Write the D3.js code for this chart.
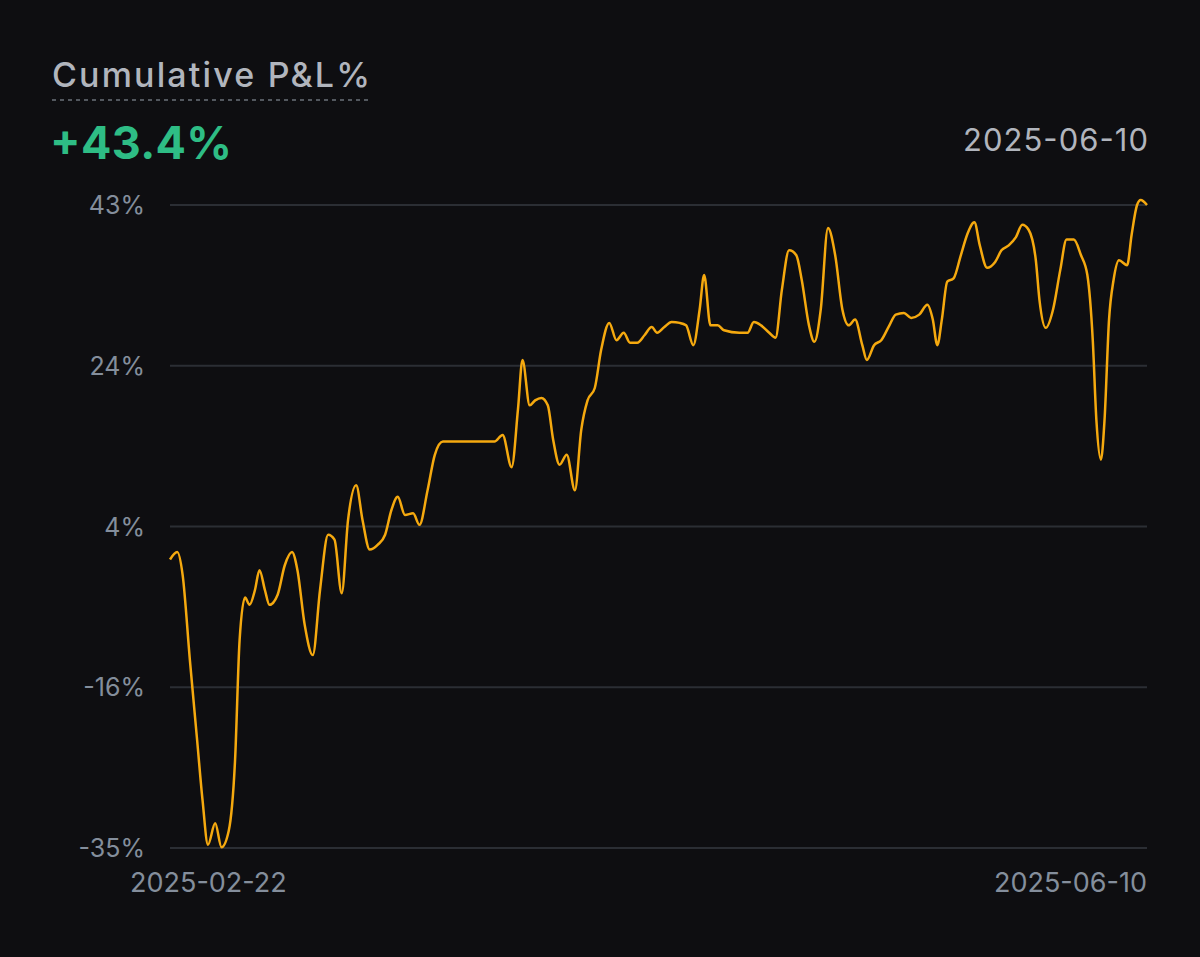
<!DOCTYPE html>
<html>
<head>
<meta charset="utf-8">
<script src="https://cdn.jsdelivr.net/npm/d3@7"></script>
<style>
  html, body { margin: 0; padding: 0; background: #0e0e11; }
  svg { display: block; }
</style>
</head>
<body>
<svg id="main_chart" width="1200" height="957"></svg>
<script>
// [day since 2025-02-22, cumulative P&L %]
const series = [
  [0,0.0],[0.8,0.9],[1.4,-1.9],[2.2,-12.2],[3.0,-21.9],[3.6,-29.2],[4.2,-34.6],[5.0,-32.0],[5.7,-34.9],[6.5,-32.9],
  [7.2,-24.3],[7.7,-9.8],[8.3,-4.6],[8.8,-5.5],[9.4,-3.7],[9.9,-1.3],[10.5,-3.7],[11.0,-5.5],[11.9,-4.3],[12.7,-0.7],
  [13.5,0.9],[14.1,-1.3],[14.9,-7.9],[15.8,-11.6],[16.6,-3.7],[17.5,3.0],[18.2,2.4],[19.0,-4.1],[19.7,4.8],[20.6,9.0],
  [21.3,4.8],[22.1,1.2],[23.0,1.8],[23.8,3.0],[24.5,6.0],[25.2,7.6],[26.0,5.4],[26.9,5.6],[27.6,4.2],[28.5,8.4],
  [29.3,12.7],[30.2,14.3],[32.0,14.3],[34.3,14.3],[35.9,14.3],[36.8,15.1],[37.8,11.2],[38.5,18.2],[39.0,24.2],[39.8,18.7],
  [40.4,19.3],[41.1,19.6],[41.8,18.7],[42.4,14.5],[43.1,11.5],[43.9,12.7],[44.8,8.4],[45.5,15.7],[46.2,19.3],[47.0,20.8],
  [47.7,25.4],[48.6,28.7],[49.4,26.6],[50.2,27.5],[50.9,26.3],[51.7,26.3],[52.5,27.2],[53.3,28.2],[53.9,27.5],[54.7,28.2],
  [55.5,28.8],[56.4,28.7],[57.1,28.4],[57.9,26.0],[58.6,30.3],[59.1,34.5],[59.8,28.4],[60.6,28.4],[61.3,27.8],[63.0,27.5],
  [63.9,27.5],[64.6,28.8],[65.4,28.4],[66.3,27.5],[67.0,26.9],[67.7,32.7],[68.5,37.5],[69.3,36.9],[69.9,33.9],[70.7,28.4],
  [71.3,26.4],[72.0,30.3],[72.8,40.2],[73.6,36.9],[74.4,30.3],[75.1,28.4],[75.8,29.1],[76.6,26.0],[77.1,24.2],[77.9,26.0],
  [78.7,26.6],[79.6,28.4],[80.3,29.7],[81.2,29.9],[82.0,29.3],[82.9,29.7],[83.8,30.9],[84.4,29.1],[84.9,26.0],[85.4,29.1],
  [86.0,33.7],[86.7,34.1],[87.5,36.9],[88.2,39.4],[89.0,40.9],[89.6,38.1],[90.4,35.4],[91.3,36.1],[92.0,37.5],[92.8,38.1],
  [93.6,39.1],[94.3,40.6],[95.0,40.0],[95.8,36.3],[96.2,31.5],[96.9,28.1],[97.7,30.3],[98.5,35.1],[99.2,38.8],[100.0,38.8],
  [100.8,36.9],[101.5,34.5],[102.1,26.6],[102.5,16.9],[103.0,12.1],[103.4,16.9],[103.9,29.1],[104.4,33.9],[105.0,36.3],[105.9,35.7],
  [106.4,39.4],[107.0,43.0],[107.4,43.6],[108.1,43.0]
];
const yTicks = [43, 23.5, 4, -15.5, -35];
const yTickLabels = ["43%", "24%", "4%", "-16%", "-35%"];
const xLabels = ["2025-02-22", "2025-06-10"];
const title = "Cumulative P&L%";
const headline = "+43.4%";
const lastDate = "2025-06-10";

const svg = d3.select("#main_chart");
const font = "Inter, 'Noto Sans', sans-serif";

let xScale = d3.scaleLinear().domain([0, 108.1]).range([170, 1147]);
let yScale = d3.scaleLinear().domain([-35, 43]).range([848, 205]);

// header
svg.append("text").attr("x", 52).attr("y", 87)
  .attr("font-family", font).attr("font-size", 34).attr("font-weight", 500)
  .attr("textLength", 318)
  .attr("fill", "#b1b5bd").text(title);
svg.append("line").attr("x1", 52).attr("x2", 370).attr("y1", 100).attr("y2", 100)
  .attr("stroke", "#6b717a").attr("stroke-width", 1.5).attr("stroke-dasharray", "4,4");
svg.append("text").attr("x", 50).attr("y", 159)
  .attr("font-family", font).attr("font-size", 45).attr("font-weight", 700)
  .attr("textLength", 182)
  .attr("fill", "#2ebd85").text(headline);
svg.append("text").attr("x", 1148).attr("y", 151).attr("text-anchor", "end")
  .attr("font-family", font).attr("font-size", 31)
  .attr("textLength", 185)
  .attr("fill", "#b1b5bd").text(lastDate);

// grid + y labels
svg.selectAll("line.grid").data(yTicks).enter().append("line")
  .attr("class", "grid")
  .attr("x1", 170).attr("x2", 1147)
  .attr("y1", d => yScale(d)).attr("y2", d => yScale(d))
  .attr("stroke", "#2b2e34").attr("stroke-width", 2);
svg.selectAll("text.ylab").data(yTicks).enter().append("text")
  .attr("class", "ylab")
  .attr("x", 145).attr("y", d => yScale(d) + 9).attr("text-anchor", "end")
  .attr("font-family", font).attr("font-size", 25)
  .attr("fill", "#848e9c").text((d, i) => yTickLabels[i]);

// x labels
svg.append("text").attr("x", xScale(0) - 40).attr("y", 892)
  .attr("font-family", font).attr("font-size", 27)
  .attr("fill", "#848e9c").text(xLabels[0]);
svg.append("text").attr("x", xScale(108.1)).attr("y", 892).attr("text-anchor", "end")
  .attr("font-family", font).attr("font-size", 27)
  .attr("fill", "#848e9c").text(xLabels[1]);

// line
let line = d3.line()
  .x(d => xScale(d[0]))
  .y(d => yScale(d[1]))
  .curve(d3.curveMonotoneX);
svg.append("path").datum(series)
  .attr("d", line)
  .attr("fill", "none")
  .attr("stroke", "#f5a90f")
  .attr("stroke-width", 2.5);
</script>
</body>
</html>
